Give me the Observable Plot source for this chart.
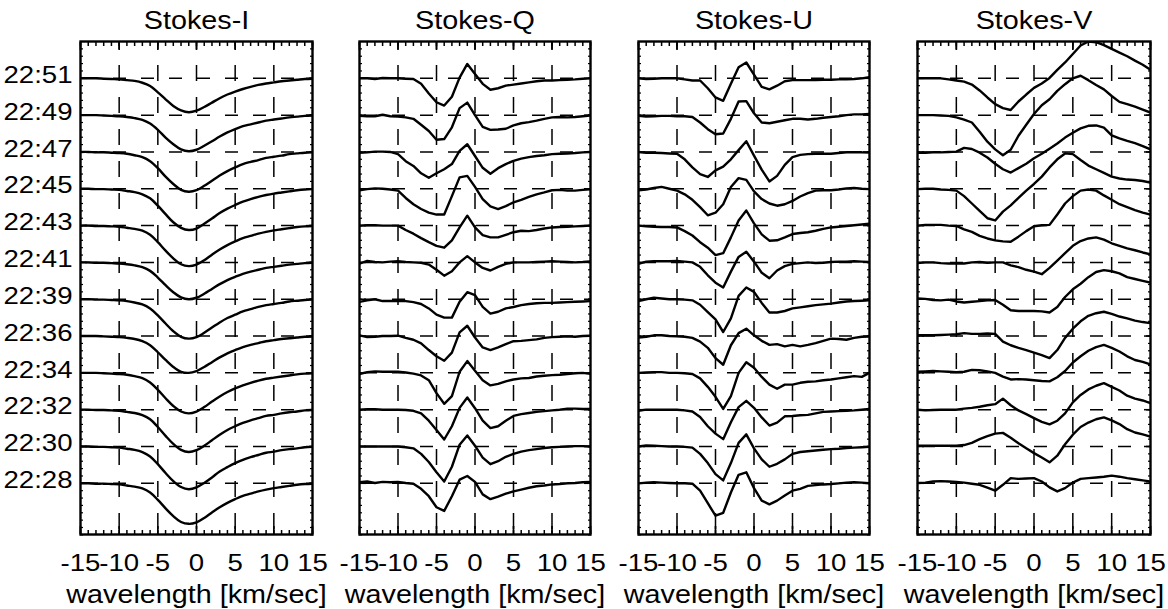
<!DOCTYPE html>
<html>
<head>
<meta charset="utf-8">
<script src="https://cdn.jsdelivr.net/npm/d3@7"></script>
<script src="https://cdn.jsdelivr.net/npm/@observablehq/plot@0.6"></script>
<style>
  body { margin: 0; background: #fff; }
  #chart { display: flex; width: 1168px; height: 609px; }
  #chart svg { overflow: visible; display: block; }
</style>
</head>
<body>
<div id="chart"></div>
<script>
// wavelength grid (km/sec)
const velocity = [-15,-14,-13,-12,-11,-10,-9,-8,-7,-6,-5,-4,-3,-2,-1,0,1,2,3,4,5,6,7,8,9,10,11,12,13,14,15];
// time of each stacked profile (bottom to top)
const times = ["22:28","22:30","22:32","22:34","22:36","22:39","22:41","22:43","22:45","22:47","22:49","22:51"];
const panelTitles = ["Stokes-I","Stokes-Q","Stokes-U","Stokes-V"];
const xTickValues = [-15,-10,-5,0,5,10,15];
const xGridValues = [-10,-5,0,5,10];
const xLabel = "wavelength [km/sec]";

// profile offsets from each row's baseline, in units of the row spacing (rows 22:28 ... 22:51)
const stokesI = [
  [0,0,-0.01,-0.01,-0.02,-0.03,-0.06,-0.09,-0.14,-0.25,-0.45,-0.68,-0.89,-1.05,-1.1,-1.06,-0.94,-0.79,-0.65,-0.53,-0.43,-0.34,-0.28,-0.22,-0.17,-0.13,-0.1,-0.07,-0.04,-0.02,-0.01],
  [0,0,-0.01,-0.01,-0.02,-0.03,-0.06,-0.09,-0.15,-0.27,-0.48,-0.72,-0.94,-1.1,-1.16,-1.11,-0.99,-0.84,-0.68,-0.56,-0.45,-0.36,-0.29,-0.23,-0.17,-0.14,-0.1,-0.07,-0.05,-0.02,-0.01],
  [0,0,-0.01,-0.01,-0.02,-0.03,-0.06,-0.09,-0.15,-0.26,-0.47,-0.71,-0.93,-1.09,-1.15,-1.1,-0.98,-0.83,-0.68,-0.55,-0.45,-0.36,-0.29,-0.23,-0.17,-0.14,-0.1,-0.07,-0.05,-0.02,-0.01],
  [0,0,0,-0.01,-0.02,-0.03,-0.05,-0.09,-0.14,-0.26,-0.46,-0.69,-0.9,-1.05,-1.1,-1.05,-0.93,-0.78,-0.64,-0.52,-0.42,-0.34,-0.27,-0.21,-0.16,-0.13,-0.1,-0.07,-0.04,-0.02,-0.01],
  [0,0,0,-0.01,-0.02,-0.03,-0.05,-0.08,-0.14,-0.25,-0.44,-0.65,-0.84,-0.97,-1.0,-0.95,-0.84,-0.71,-0.58,-0.47,-0.38,-0.3,-0.24,-0.19,-0.14,-0.11,-0.08,-0.06,-0.04,-0.02,-0.01],
  [0,0,-0.01,-0.01,-0.02,-0.03,-0.05,-0.09,-0.14,-0.25,-0.44,-0.66,-0.87,-1.02,-1.07,-1.03,-0.91,-0.77,-0.63,-0.51,-0.42,-0.33,-0.27,-0.21,-0.16,-0.13,-0.1,-0.06,-0.04,-0.02,-0.01],
  [0,0,-0.01,-0.01,-0.02,-0.03,-0.05,-0.08,-0.13,-0.23,-0.41,-0.62,-0.81,-0.95,-1.0,-0.96,-0.85,-0.72,-0.59,-0.48,-0.39,-0.31,-0.25,-0.2,-0.15,-0.12,-0.09,-0.06,-0.04,-0.02,-0.01],
  [0,0,-0.01,-0.01,-0.02,-0.03,-0.06,-0.09,-0.14,-0.25,-0.45,-0.68,-0.89,-1.05,-1.1,-1.06,-0.94,-0.79,-0.65,-0.53,-0.43,-0.34,-0.28,-0.22,-0.17,-0.13,-0.1,-0.07,-0.04,-0.02,-0.01],
  [0,0,-0.01,-0.01,-0.02,-0.03,-0.06,-0.09,-0.15,-0.26,-0.46,-0.69,-0.91,-1.06,-1.12,-1.08,-0.95,-0.81,-0.66,-0.54,-0.44,-0.35,-0.28,-0.22,-0.17,-0.13,-0.1,-0.07,-0.04,-0.02,-0.01],
  [0,0,-0.01,-0.01,-0.02,-0.03,-0.05,-0.09,-0.14,-0.25,-0.44,-0.67,-0.87,-1.03,-1.08,-1.04,-0.92,-0.78,-0.64,-0.52,-0.42,-0.33,-0.27,-0.22,-0.16,-0.13,-0.1,-0.06,-0.04,-0.02,-0.01],
  [0,0,0,-0.01,-0.02,-0.03,-0.05,-0.08,-0.13,-0.23,-0.4,-0.61,-0.79,-0.93,-0.98,-0.94,-0.83,-0.71,-0.58,-0.47,-0.38,-0.3,-0.25,-0.2,-0.15,-0.12,-0.09,-0.06,-0.04,-0.02,-0.01],
  [0,0,0,-0.01,-0.02,-0.03,-0.05,-0.07,-0.12,-0.21,-0.38,-0.57,-0.75,-0.87,-0.92,-0.88,-0.78,-0.66,-0.54,-0.44,-0.36,-0.29,-0.23,-0.18,-0.14,-0.11,-0.08,-0.06,-0.04,-0.02,-0.01]
];

const stokesQ = [
  [0.03,0.05,0.01,0.04,0.03,0.04,0.01,-0.01,-0.15,-0.35,-0.65,-0.75,-0.35,0.1,0.2,0.04,-0.3,-0.43,-0.36,-0.28,-0.22,-0.17,-0.12,-0.08,-0.06,-0.03,-0.02,0,0.01,0.03,0.04],
  [0,0,0,0,0,0,-0.02,-0.05,-0.2,-0.42,-0.7,-0.95,-0.55,0.05,0.3,0.02,-0.3,-0.48,-0.4,-0.28,-0.2,-0.14,-0.1,-0.07,-0.04,-0.02,-0.01,0,0.01,0.01,0],
  [0,0.01,0.01,0,0,0,-0.01,-0.03,-0.1,-0.3,-0.55,-0.81,-0.45,0.05,0.33,0.04,-0.3,-0.5,-0.45,-0.3,-0.17,-0.12,-0.09,-0.06,-0.04,-0.02,0,0.03,0.03,0.02,0.02],
  [-0.03,0.02,0.04,0.03,0.03,0.03,0.01,-0.02,-0.07,-0.2,-0.55,-0.84,-0.63,0.03,0.32,0.06,-0.2,-0.34,-0.3,-0.23,-0.18,-0.15,-0.14,-0.1,-0.08,-0.06,-0.05,-0.03,-0.01,0,-0.03],
  [0.02,-0.03,-0.02,0,0,0.01,-0.05,-0.1,-0.2,-0.38,-0.55,-0.67,-0.45,0.1,0.28,-0.04,-0.31,-0.38,-0.31,-0.22,-0.14,-0.13,-0.11,-0.09,-0.05,-0.03,-0.02,-0.01,-0.02,0,0.01],
  [-0.07,-0.03,0,-0.05,-0.05,-0.05,-0.05,-0.08,-0.13,-0.25,-0.42,-0.5,-0.5,-0.07,0.19,0.11,-0.21,-0.39,-0.34,-0.25,-0.21,-0.16,-0.13,-0.11,-0.1,-0.1,-0.09,-0.08,-0.07,-0.06,-0.05],
  [-0.03,0.04,0.01,0,0.02,0.03,0.01,0,-0.01,-0.06,-0.2,-0.36,-0.24,0,0.17,0,-0.15,-0.22,-0.12,-0.04,0,0,0,0.01,0.02,0.03,0.02,0.01,0,0.01,0.03],
  [0,0.01,0.01,0,0,0,-0.12,-0.22,-0.34,-0.45,-0.55,-0.6,-0.4,-0.05,0.27,-0.05,-0.26,-0.32,-0.32,-0.25,-0.18,-0.14,-0.15,-0.12,-0.08,-0.05,-0.04,-0.03,-0.02,-0.01,0],
  [-0.04,-0.01,0.01,0,-0.02,-0.05,-0.25,-0.42,-0.55,-0.65,-0.7,-0.7,-0.2,0.31,0.35,0.05,-0.28,-0.48,-0.55,-0.47,-0.37,-0.3,-0.22,-0.15,-0.1,-0.04,-0.03,-0.05,-0.05,-0.03,-0.01],
  [-0.02,-0.01,0.01,0.01,0,-0.06,-0.25,-0.38,-0.58,-0.7,-0.58,-0.47,-0.33,0.03,0.21,-0.11,-0.43,-0.59,-0.44,-0.33,-0.24,-0.18,-0.14,-0.11,-0.09,-0.06,-0.05,-0.04,-0.03,-0.01,0],
  [-0.02,-0.03,-0.03,0.01,-0.03,-0.04,-0.06,-0.1,-0.26,-0.43,-0.67,-0.65,-0.33,0.19,0.34,0,-0.32,-0.4,-0.39,-0.37,-0.28,-0.22,-0.19,-0.15,-0.1,-0.06,-0.05,-0.06,-0.05,-0.03,-0.01],
  [0,0,-0.02,0.01,0,0,-0.01,-0.02,-0.15,-0.41,-0.65,-0.74,-0.5,0.02,0.39,0.12,-0.15,-0.31,-0.27,-0.2,-0.17,-0.14,-0.11,-0.08,-0.06,-0.06,-0.05,-0.04,-0.03,-0.01,0]
];

const stokesU = [
  [0,0.02,0.03,0.02,0.01,0,0,-0.01,-0.2,-0.54,-0.88,-0.8,-0.25,0.23,0.3,-0.13,-0.47,-0.57,-0.47,-0.33,-0.2,-0.15,-0.07,-0.05,-0.03,-0.02,0,0.02,0.03,0.02,0],
  [0,0.03,0.02,0.01,0,0,-0.01,-0.03,-0.2,-0.45,-0.75,-0.92,-0.45,0.1,0.33,-0.05,-0.35,-0.55,-0.47,-0.35,-0.2,-0.15,-0.13,-0.11,-0.09,-0.07,-0.06,-0.04,-0.03,-0.02,-0.01],
  [-0.03,0,0,0,0,0,-0.02,-0.05,-0.2,-0.45,-0.65,-0.8,-0.34,0.07,0.24,0.05,-0.21,-0.43,-0.35,-0.18,-0.17,-0.15,-0.14,-0.1,-0.06,-0.05,-0.04,-0.03,-0.02,0,0.02],
  [0,0.01,0.02,0.02,0,0,-0.01,-0.03,-0.15,-0.38,-0.65,-0.98,-0.63,0,0.29,0.14,-0.11,-0.32,-0.43,-0.32,-0.32,-0.27,-0.24,-0.23,-0.2,-0.18,-0.15,-0.12,-0.09,-0.11,0],
  [-0.04,-0.02,0.02,0.02,0,-0.01,-0.02,-0.05,-0.15,-0.32,-0.6,-0.78,-0.25,0.08,0.2,0.02,-0.13,-0.24,-0.22,-0.28,-0.24,-0.28,-0.24,-0.19,-0.13,-0.07,-0.08,-0.1,-0.05,-0.02,-0.01],
  [-0.05,0,0.04,0.02,0,0,-0.01,-0.03,-0.15,-0.35,-0.55,-0.89,-0.52,0.09,0.32,0.2,-0.1,-0.36,-0.36,-0.32,-0.25,-0.22,-0.19,-0.16,-0.14,-0.12,-0.09,-0.06,-0.05,-0.04,-0.03],
  [-0.04,0.02,0.03,0.03,0.03,0.04,0.02,0,-0.12,-0.35,-0.55,-0.68,-0.25,0.15,0.29,0.02,-0.28,-0.43,-0.22,-0.1,-0.04,-0.02,0,-0.02,-0.01,0.01,0.02,0.02,0.03,0.02,0.01],
  [0,-0.02,-0.03,-0.04,-0.04,-0.05,-0.15,-0.27,-0.45,-0.6,-0.8,-0.75,-0.32,0.14,0.41,0.06,-0.24,-0.41,-0.4,-0.32,-0.23,-0.2,-0.18,-0.14,-0.09,-0.05,-0.03,-0.01,0.01,0.03,0.05],
  [-0.04,-0.02,0.02,0.05,0,-0.05,-0.15,-0.3,-0.5,-0.72,-0.65,-0.42,0.05,0.29,0.24,-0.07,-0.28,-0.4,-0.46,-0.42,-0.33,-0.21,-0.12,-0.05,-0.04,-0.04,-0.02,0.01,0.02,0,-0.01],
  [0,-0.02,-0.02,-0.03,-0.04,-0.05,-0.2,-0.42,-0.6,-0.68,-0.5,-0.4,-0.2,0.05,0.29,-0.1,-0.48,-0.8,-0.65,-0.35,-0.14,-0.08,-0.06,-0.05,-0.05,-0.05,-0.03,-0.01,-0.01,-0.01,-0.02],
  [-0.02,-0.04,-0.03,-0.02,-0.02,-0.03,-0.03,-0.05,-0.2,-0.38,-0.52,-0.5,-0.1,0.37,0.38,0.05,-0.2,-0.22,-0.18,-0.14,-0.1,-0.1,-0.12,-0.1,-0.07,-0.05,-0.03,0,0.02,0.02,0.03],
  [0,-0.02,-0.01,0,0,0,-0.03,-0.06,-0.06,-0.27,-0.52,-0.61,-0.15,0.3,0.43,0.1,-0.23,-0.3,-0.2,-0.08,-0.05,-0.05,-0.05,-0.05,-0.04,-0.04,-0.03,-0.03,-0.02,0,0.03]
];

const stokesV = [
  [0.01,0.02,0.05,0.06,0.05,0.04,0.02,-0.01,-0.04,-0.12,-0.2,-0.04,0.14,0.12,0.13,0.14,0.05,-0.11,-0.22,-0.13,0.02,0.12,0.14,0.16,0.18,0.21,0.18,0.14,0.11,0.08,0.05],
  [0.02,0.02,0.02,0.02,0.02,0.02,0.04,0.1,0.2,0.28,0.35,0.37,0.24,0.09,-0.05,-0.18,-0.3,-0.43,-0.25,0.06,0.32,0.53,0.65,0.74,0.79,0.71,0.61,0.47,0.38,0.33,0.27],
  [0,-0.02,-0.01,0,0,0,0.03,0.05,0.08,0.12,0.15,0.3,0.12,-0.02,-0.12,-0.23,-0.33,-0.4,-0.3,-0.1,0.2,0.4,0.55,0.65,0.72,0.62,0.52,0.38,0.3,0.25,0.18],
  [0.03,0.04,0.05,0.04,0.03,0.02,0.03,0.08,0.07,0.04,0,-0.1,-0.18,-0.17,-0.18,-0.2,-0.22,-0.23,-0.12,0.05,0.28,0.45,0.6,0.7,0.76,0.68,0.58,0.45,0.35,0.3,0.23],
  [0.02,0.02,0.02,0.03,0.04,0.05,0.08,0.06,0.06,0.07,0.06,-0.15,-0.25,-0.32,-0.38,-0.45,-0.52,-0.6,-0.38,-0.05,0.2,0.4,0.55,0.62,0.66,0.6,0.53,0.48,0.42,0.38,0.35],
  [0.02,0.01,-0.02,-0.03,-0.01,-0.06,-0.09,-0.07,-0.05,-0.03,-0.02,-0.15,-0.3,-0.32,-0.32,-0.32,-0.33,-0.36,-0.21,0.06,0.27,0.42,0.6,0.74,0.79,0.76,0.7,0.6,0.55,0.5,0.45],
  [-0.02,0,0,-0.02,-0.03,-0.03,-0.03,0,0.01,-0.01,0,0,-0.08,-0.13,-0.2,-0.25,-0.32,-0.15,0.05,0.25,0.45,0.58,0.65,0.68,0.62,0.52,0.45,0.38,0.33,0.27,0.22],
  [0,0.02,0.02,0.02,0,-0.01,-0.1,-0.17,-0.28,-0.35,-0.4,-0.43,-0.44,-0.3,-0.15,-0.02,0.01,0.02,0.3,0.6,0.8,0.95,0.98,0.95,0.82,0.7,0.58,0.5,0.42,0.35,0.3],
  [-0.01,0,0,-0.02,-0.03,-0.05,-0.2,-0.4,-0.6,-0.8,-0.86,-0.62,-0.45,-0.25,-0.05,0.13,0.33,0.58,0.8,0.96,0.94,0.78,0.63,0.53,0.43,0.33,0.28,0.25,0.24,0.21,0.17],
  [-0.02,-0.02,-0.01,-0.01,0,0.01,0.11,0.08,-0.02,-0.15,-0.32,-0.47,-0.56,-0.44,-0.32,-0.17,-0.05,0.09,0.23,0.39,0.52,0.64,0.71,0.72,0.66,0.45,0.37,0.3,0.24,0.16,0.07],
  [0,0,0,-0.01,-0.02,-0.06,-0.12,-0.2,-0.45,-0.72,-0.93,-1.09,-0.94,-0.56,-0.26,0.03,0.27,0.43,0.66,0.84,1.0,1.07,0.95,0.82,0.7,0.52,0.36,0.3,0.23,0.15,0.07],
  [0,0,0,0,-0.03,-0.06,-0.09,-0.17,-0.33,-0.52,-0.7,-0.81,-0.86,-0.63,-0.44,-0.26,-0.14,0.01,0.23,0.43,0.66,0.89,1.0,0.98,0.9,0.8,0.7,0.6,0.48,0.37,0.23]
];

// ---------- layout / drawing ----------
const FONT = '"Liberation Sans", Arial, Helvetica, sans-serif';
const STRETCH = 1.15; // horizontal text stretch of the reference
const rowIndex = times.map((_, i) => i);
const xMinor = d3.range(-15, 16, 1);
const yMinor = d3.range(-7, 60).map(k => k / 5);

const panels = [
  {title: panelTitles[0], rows: stokesI, curve: "catmull-rom", width: 335, ml: 80, mr: 23, labels: true},
  {title: panelTitles[1], rows: stokesQ, curve: "linear", width: 279, ml: 24, mr: 24, labels: false},
  {title: panelTitles[2], rows: stokesU, curve: "linear", width: 279, ml: 24, mr: 24, labels: false},
  {title: panelTitles[3], rows: stokesV, curve: "linear", width: 275, ml: 24, mr: 18, labels: false}
];

function stretchText(svg, k) {
  svg.querySelectorAll("text").forEach(t => {
    let tr = t.getAttribute("transform") || "";
    const xa = t.getAttribute("x"), ya = t.getAttribute("y");
    let tx = 0, ty = 0;
    if (xa != null && !/em$/.test(xa)) { tx = parseFloat(xa) || 0; t.removeAttribute("x"); }
    if (ya != null && !/em$/.test(ya)) { ty = parseFloat(ya) || 0; t.removeAttribute("y"); }
    if (tx || ty) tr += ` translate(${tx},${ty})`;
    t.setAttribute("transform", `${tr} scale(${k},1)`);
  });
}

const chart = document.getElementById("chart");
for (const p of panels) {
  const data = p.rows.flatMap((row, i) => row.map((val, j) => ({v: velocity[j], base: i, val, t: times[i]})));
  const marks = [
    Plot.ruleX(xGridValues, {stroke: "black", strokeWidth: 1.5, strokeDasharray: "16,16", strokeDashoffset: 8}),
    Plot.ruleY(rowIndex, {stroke: "black", strokeWidth: 1.5, strokeDasharray: "13,15", strokeDashoffset: 23}),
    Plot.line(data, {x: "v", y: d => d.base + d.val, z: "t", stroke: "black", strokeWidth: 2.4, strokeLinejoin: "round", curve: p.curve, clip: true}),
    Plot.axisX(xMinor, {anchor: "bottom", tickSize: -4, text: null, label: null, strokeWidth: 1.5}),
    Plot.axisX(xMinor, {anchor: "top", tickSize: -4, text: null, label: null, strokeWidth: 1.5}),
    Plot.axisX(xTickValues, {anchor: "bottom", tickSize: -8, text: null, label: null, strokeWidth: 1.7}),
    Plot.axisX(xTickValues, {anchor: "top", tickSize: -8, text: null, label: null, strokeWidth: 1.7}),
    Plot.axisX(xTickValues, {anchor: "bottom", tickSize: 0, tickPadding: 19, label: null, fontSize: 24, tickFormat: d => String(d)}),
    Plot.axisY(yMinor, {anchor: "left", tickSize: -3, text: null, label: null, strokeWidth: 1.2}),
    Plot.axisY(yMinor, {anchor: "right", tickSize: -3, text: null, label: null, strokeWidth: 1.2}),
    Plot.axisY(rowIndex, {anchor: "left", tickSize: -7, text: null, label: null, strokeWidth: 1.5}),
    Plot.axisY(rowIndex, {anchor: "right", tickSize: -7, text: null, label: null, strokeWidth: 1.5}),
    Plot.frame({stroke: "black", strokeWidth: 2.4}),
    Plot.text([p.title], {frameAnchor: "top", lineAnchor: "bottom", dy: -13, fontSize: 25, fill: "black"}),
    Plot.text([xLabel], {frameAnchor: "bottom", lineAnchor: "bottom", dy: 68, fontSize: 25, fill: "black"})
  ];
  if (p.labels) {
    marks.push(Plot.axisY(rowIndex, {anchor: "left", tickSize: 0, tickPadding: 8, dy: -3, label: null, fontSize: 24, tickFormat: i => times[i]}));
  }
  const svg = Plot.plot({
    width: p.width,
    height: 609,
    marginLeft: p.ml,
    marginRight: p.mr,
    marginTop: 41,
    marginBottom: 75,
    style: {fontFamily: FONT, fontSize: "24px", color: "black", background: "white", overflow: "visible"},
    x: {domain: [-15, 15], label: null},
    y: {domain: [-1.39, 12], label: null},
    marks
  });
  stretchText(svg, STRETCH);
  chart.appendChild(svg);
}
</script>
</body>
</html>
